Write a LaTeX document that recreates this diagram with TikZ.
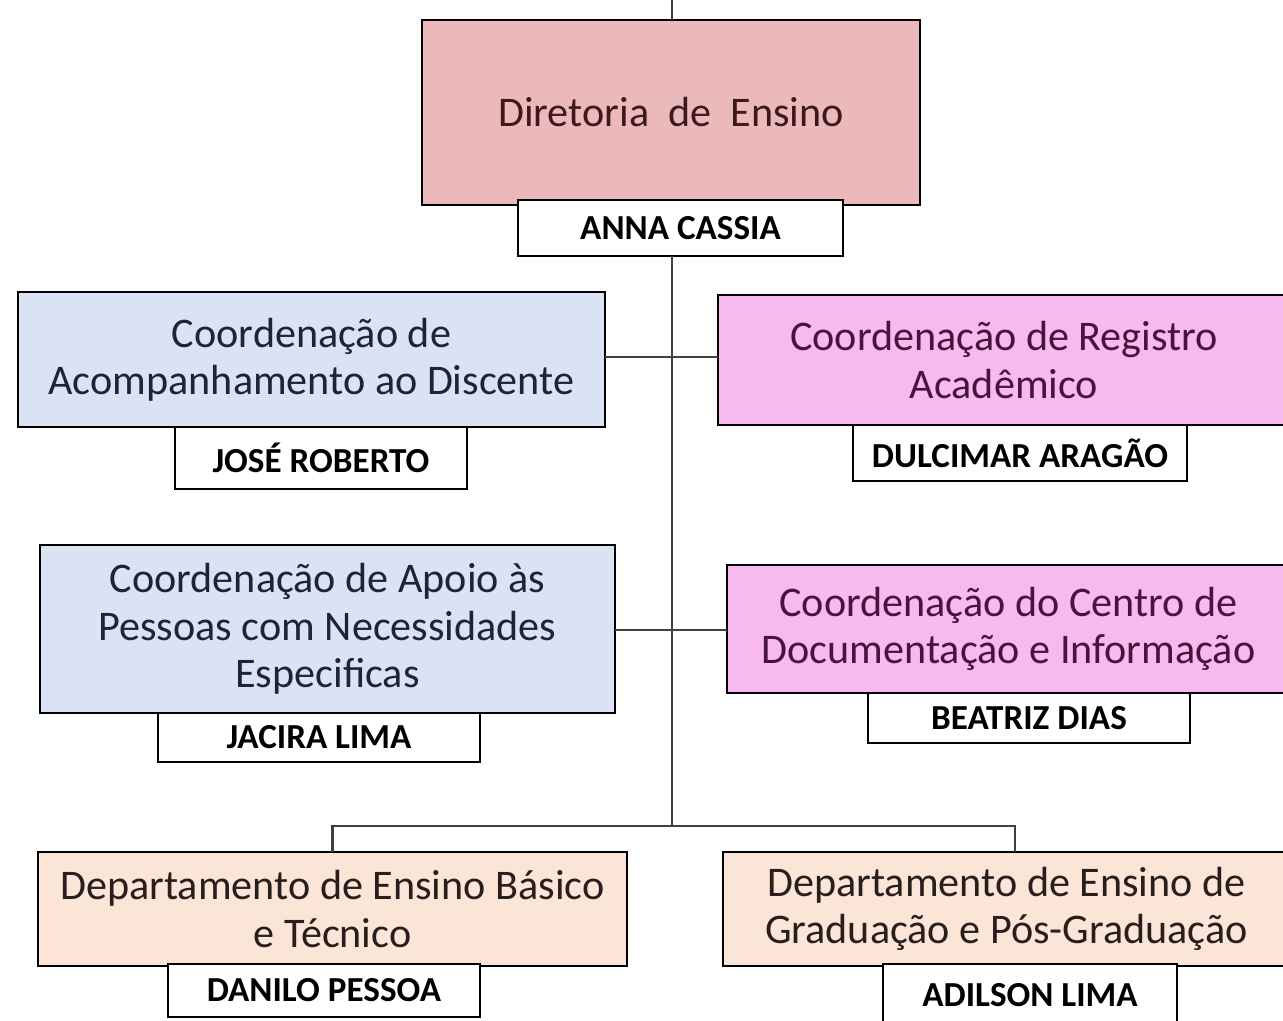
\documentclass[tikz,border=0pt]{standalone}
\usepackage{fontspec}
\setmainfont{Carlito}
\usetikzlibrary{positioning}
\definecolor{diretoriared}{RGB}{235,185,185}
\definecolor{coordblue}{RGB}{218,227,243}
\definecolor{coordpink}{RGB}{248,185,238}
\definecolor{deptpeach}{RGB}{251,229,214}
\definecolor{dirtext}{RGB}{60,25,30}
\definecolor{bluetext}{RGB}{30,35,55}
\definecolor{pinktext}{RGB}{70,20,60}
\definecolor{peachtext}{RGB}{40,30,30}
\tikzstyle{unit} = [rectangle, draw=black, line width=1.6pt, outer sep=0pt, align=center, font=\fontsize{24}{27}\selectfont]
\tikzstyle{chief} = [rectangle, draw=black, line width=1.6pt, outer sep=0pt, fill=white, inner sep=0pt, font=\fontsize{20}{22}\selectfont\bfseries]
\tikzstyle{link} = [line width=1.2pt, draw=black!75]

\begin{document}
\begin{tikzpicture}[x=0.02cm, y=-0.02cm]
    \useasboundingbox (0,0) rectangle (1283,1020);
    % Direction --------------------------------------------------------------------------------
    \node[unit, minimum width=9.96cm, minimum height=3.7cm, fill=diretoriared, text=dirtext](dir) at (671,112.5){Diretoria\ \ de\ \ Ensino};
    \node[chief, minimum width=6.5cm, minimum height=1.12cm, below=-0.1cm of dir.south, xshift=0.19cm](anna){ANNA CASSIA};
    \coordinate (top) at (672,0);
    \coordinate (split) at (672,826);
    % Coordinations ----------------------------------------------------------------------------
    \node[unit, minimum width=11.74cm, minimum height=2.7cm, fill=coordblue, text=bluetext](acomp) at (311.5,359.5){Coordenação de\\Acompanhamento ao Discente};
    \node[chief, minimum width=5.84cm, minimum height=1.24cm, below=0mm of acomp.south, xshift=0.19cm](jose){JOSÉ ROBERTO};
    \node[unit, minimum width=11.44cm, minimum height=2.6cm, fill=coordpink, text=pinktext](registro) at (1004,360){Coordenação de Registro\\Acadêmico};
    \node[chief, minimum width=6.68cm, minimum height=1.12cm, below=0mm of registro.south, xshift=0.32cm](dulcimar){DULCIMAR ARAGÃO};
    \node[unit, minimum width=11.5cm, minimum height=3.36cm, fill=coordblue, text=bluetext](apoio) at (327.5,629){Coordenação de Apoio às\\Pessoas com Necessidades\\Especificas};
    \node[chief, minimum width=6.44cm, minimum height=0.98cm, below=0mm of apoio.south, xshift=-0.17cm](jacira){JACIRA LIMA};
    \node[unit, minimum width=11.26cm, minimum height=2.56cm, fill=coordpink, text=pinktext](centro) at (1008.5,629){Coordenação do Centro de\\Documentação e Informação};
    \node[chief, minimum width=6.44cm, minimum height=1.0cm, below=0mm of centro.south, xshift=0.41cm](beatriz){BEATRIZ DIAS};
    % Departments ------------------------------------------------------------------------------
    \node[unit, minimum width=11.78cm, minimum height=2.28cm, fill=deptpeach, text=peachtext](basico) at (332.5,909){Departamento de Ensino Básico\\e Técnico};
    \node[chief, minimum width=6.24cm, minimum height=1.06cm, below=-0.04cm of basico.south, xshift=-0.17cm](danilo){DANILO PESSOA};
    \node[unit, minimum width=11.34cm, minimum height=2.28cm, fill=deptpeach, text=peachtext](grad) at (1006.5,909){Departamento de Ensino de\\Graduação e Pós-Graduação};
    \node[chief, minimum width=5.88cm, minimum height=1.24cm, below=-0.04cm of grad.south, xshift=0.47cm](adilson){ADILSON LIMA};
    % Links ------------------------------------------------------------------------------------
    \draw[link] (top) -- (top |- dir.north);
    \draw[link] (anna.south -| top) -- (split);
    \draw[link] (acomp.east |- 0,357) -- (registro.west |- 0,357);
    \draw[link] (apoio.east |- 0,630) -- (centro.west |- 0,630);
    \draw[link] (basico.north) |- (split) -| ([xshift=0.17cm]grad.north);
\end{tikzpicture}
\end{document}
